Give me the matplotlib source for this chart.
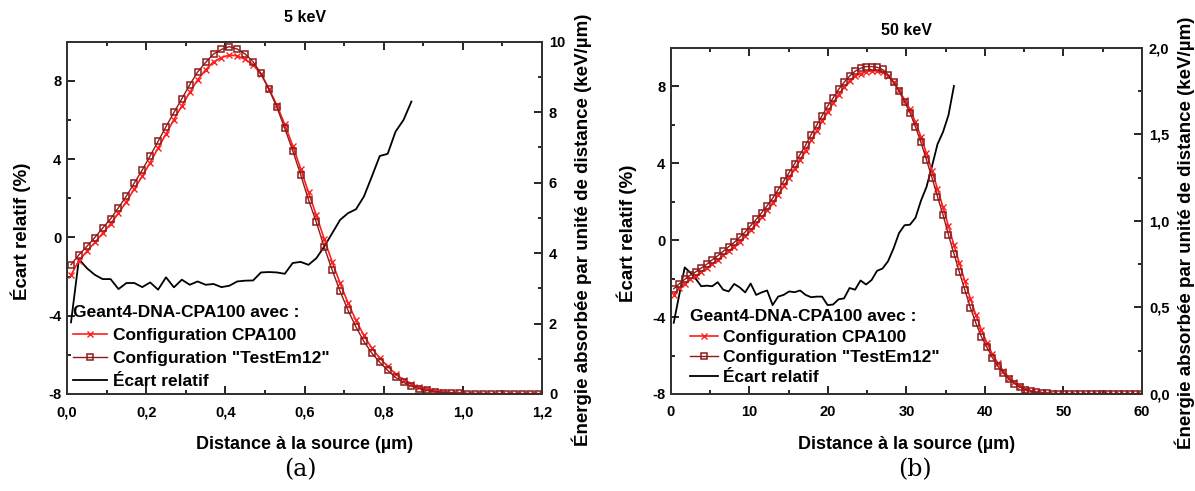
import matplotlib
matplotlib.use("Agg")
import matplotlib.pyplot as plt
from matplotlib.ticker import MultipleLocator, FuncFormatter
from matplotlib.lines import Line2D

plt.rcParams['font.family'] = ['Liberation Sans', 'DejaVu Sans']
plt.rcParams['font.weight'] = 'bold'
plt.rcParams['axes.unicode_minus'] = False

# ---------------- 5 keV ----------------
a_x = [0.01, 0.03, 0.05, 0.07, 0.09, 0.11, 0.13, 0.15, 0.17, 0.19,
       0.21, 0.23, 0.25, 0.27, 0.29, 0.31, 0.33, 0.35, 0.37, 0.39,
       0.41, 0.43, 0.45, 0.47, 0.49, 0.51, 0.53, 0.55, 0.57, 0.59,
       0.61, 0.63, 0.65, 0.67, 0.69, 0.71, 0.73, 0.75, 0.77, 0.79,
       0.81, 0.83, 0.85, 0.87, 0.89, 0.91, 0.93, 0.95, 0.97, 0.99,
       1.01, 1.03, 1.05, 1.07, 1.09, 1.11, 1.13, 1.15, 1.17, 1.19]
a_testem12 = [3.67, 3.95, 4.19, 4.44, 4.71, 4.97, 5.29, 5.62, 5.99, 6.36,
              6.76, 7.17, 7.59, 7.99, 8.38, 8.78, 9.14, 9.41, 9.65, 9.78,
              9.86, 9.79, 9.65, 9.43, 9.10, 8.65, 8.14, 7.54, 6.91, 6.23,
              5.51, 4.87, 4.16, 3.51, 2.91, 2.37, 1.90, 1.49, 1.16, 0.90,
              0.67, 0.47, 0.33, 0.22, 0.15, 0.10, 0.06, 0.04, 0.03, 0.02,
              0.01, 0.01, 0.01, 0.0, 0.0, 0.0, 0.0, 0.0, 0.0, 0.0]
a_cpa100 = [3.38, 3.78, 4.05, 4.30, 4.56, 4.83, 5.13, 5.46, 5.82, 6.18,
            6.57, 6.98, 7.38, 7.79, 8.18, 8.56, 8.92, 9.20, 9.43, 9.55,
            9.62, 9.60, 9.50, 9.35, 9.07, 8.67, 8.20, 7.65, 7.05, 6.40,
            5.72, 5.07, 4.39, 3.74, 3.14, 2.58, 2.09, 1.66, 1.30, 1.02,
            0.78, 0.57, 0.40, 0.28, 0.19, 0.13, 0.08, 0.05, 0.03, 0.02,
            0.01, 0.01, 0.01, 0.0, 0.0, 0.0, 0.0, 0.0, 0.0, 0.0]
a_ecart_x = a_x[:44]
a_ecart = [-4.34, -1.11, -1.57, -1.91, -2.13, -2.13, -2.64, -2.33, -2.33, -2.54,
           -2.30, -2.67, -2.04, -2.55, -2.16, -2.42, -2.25, -2.42, -2.38, -2.54,
           -2.47, -2.25, -2.21, -2.20, -1.79, -1.77, -1.79, -1.86, -1.31, -1.25,
           -1.40, -1.06, -0.46, 0.22, 0.90, 1.24, 1.44, 2.09, 3.11, 4.16,
           4.27, 5.41, 6.00, 6.94]

# ---------------- 50 keV ----------------
b_x = [0.35, 1.05, 1.75, 2.45, 3.15, 3.85, 4.55, 5.25, 5.95, 6.65,
       7.35, 8.05, 8.75, 9.45, 10.15, 10.85, 11.55, 12.25, 12.95, 13.65,
       14.35, 15.05, 15.75, 16.45, 17.15, 17.85, 18.55, 19.25, 19.95, 20.65,
       21.35, 22.05, 22.75, 23.45, 24.15, 24.85, 25.55, 26.25, 26.95, 27.65,
       28.35, 29.05, 29.75, 30.45, 31.15, 31.85, 32.55, 33.25, 33.95, 34.65,
       35.35, 36.05, 36.75, 37.45, 38.15, 38.85, 39.55, 40.25, 40.95, 41.65,
       42.35, 43.05, 43.75, 44.45, 45.15, 45.85, 46.55, 47.25, 47.95, 48.65,
       49.35, 50.05, 50.75, 51.45, 52.15, 52.85, 53.55, 54.25, 54.95, 55.65,
       56.35, 57.05, 57.75, 58.45, 59.15, 59.85]
b_testem12 = [0.607, 0.636, 0.662, 0.686, 0.705, 0.727, 0.749, 0.775, 0.798, 0.824,
              0.850, 0.875, 0.905, 0.935, 0.972, 1.008, 1.047, 1.087, 1.130, 1.180,
              1.229, 1.279, 1.330, 1.383, 1.437, 1.498, 1.551, 1.607, 1.662, 1.709,
              1.759, 1.800, 1.836, 1.864, 1.881, 1.891, 1.891, 1.887, 1.874, 1.844,
              1.800, 1.749, 1.686, 1.625, 1.542, 1.453, 1.352, 1.249, 1.140, 1.036,
              0.919, 0.810, 0.702, 0.599, 0.498, 0.409, 0.330, 0.270, 0.210, 0.160,
              0.120, 0.085, 0.060, 0.040, 0.025, 0.015, 0.009, 0.005, 0.003, 0.002,
              0.001, 0.0, 0.0, 0.0, 0.0, 0.0, 0.0, 0.0, 0.0, 0.0,
              0.0, 0.0, 0.0, 0.0, 0.0, 0.0]
b_cpa100 = [0.573, 0.610, 0.638, 0.662, 0.682, 0.704, 0.726, 0.751, 0.774, 0.800,
            0.826, 0.851, 0.880, 0.910, 0.946, 0.982, 1.020, 1.060, 1.102, 1.150,
            1.199, 1.249, 1.300, 1.352, 1.406, 1.465, 1.519, 1.575, 1.630, 1.679,
            1.729, 1.771, 1.808, 1.836, 1.850, 1.862, 1.866, 1.866, 1.858, 1.836,
            1.800, 1.755, 1.700, 1.645, 1.570, 1.485, 1.390, 1.290, 1.185, 1.080,
            0.970, 0.860, 0.755, 0.650, 0.550, 0.455, 0.370, 0.295, 0.230, 0.178,
            0.133, 0.095, 0.068, 0.046, 0.030, 0.019, 0.012, 0.007, 0.004, 0.002,
            0.001, 0.0, 0.0, 0.0, 0.0, 0.0, 0.0, 0.0, 0.0, 0.0,
            0.0, 0.0, 0.0, 0.0, 0.0, 0.0]
b_ecart_x = b_x[:52]
b_ecart = [-4.30, -2.85, -1.42, -1.69, -2.01, -2.40, -2.37, -2.40, -2.19, -2.58,
           -2.67, -2.28, -2.46, -2.72, -2.26, -2.85, -2.72, -2.62, -3.38, -2.94,
           -2.85, -2.67, -2.71, -2.62, -2.85, -2.97, -2.94, -2.94, -3.38, -3.35,
           -3.08, -3.03, -2.49, -2.58, -2.10, -2.31, -2.08, -1.60, -1.48, -1.10,
           -0.44, 0.36, 0.77, 0.80, 1.16, 2.05, 2.76, 3.83, 4.98, 5.61,
           6.49, 8.01]

RED = '#ff1e1e'
DARKRED = '#8e1b1b'

comma = FuncFormatter(lambda v, p: ('%.1f' % v).replace('.', ','))
integer = FuncFormatter(lambda v, p: '%d' % round(v))


def panel(rect, title, x, cpa, tem, ex, ec, xmax, xmaj, xmin, xfmt, ymax, ymaj, ymin, yfmt,
          leg_anchor, hlen, lspace, title_pad, ylab_xy, rlab_xy):
    ax = fig.add_axes(rect)
    ax2 = ax.twinx()
    ax.plot(ex, ec, color='black', lw=1.3)
    ax2.plot(x, cpa, color=RED, lw=1.2, marker='x', ms=5, mew=1.0)
    ax2.plot(x, tem, color=DARKRED, lw=1.0, marker='s', ms=5, mfc='none', mew=1.1)

    ax.set_xlim(0, xmax)
    ax.set_ylim(-8, 10)
    ax2.set_ylim(0, ymax)
    ax.xaxis.set_major_locator(MultipleLocator(xmaj))
    ax.xaxis.set_minor_locator(MultipleLocator(xmin))
    ax.xaxis.set_major_formatter(xfmt)
    ax.yaxis.set_major_locator(MultipleLocator(4))
    ax.yaxis.set_minor_locator(MultipleLocator(2))
    ax2.yaxis.set_major_locator(MultipleLocator(ymaj))
    ax2.yaxis.set_minor_locator(MultipleLocator(ymin))
    ax2.yaxis.set_major_formatter(yfmt)

    ax.tick_params(which='both', direction='in', top=True, labelsize=10.5, width=1.2, pad=4)
    ax.tick_params(axis='x', which='both', pad=8)
    ax.tick_params(which='major', length=6)
    ax.tick_params(which='minor', length=3)
    ax2.tick_params(which='both', direction='in', labelsize=10.5, width=1.2, pad=5)
    ax2.tick_params(which='major', length=6)
    ax2.tick_params(which='minor', length=3)
    for a in (ax, ax2):
        for s in a.spines.values():
            s.set_linewidth(1.4)
            s.set_color('#333333')

    ax.set_title(title, fontsize=11.5, fontweight='bold', pad=title_pad)
    ax.set_xlabel('Distance à la source (µm)', fontsize=13, fontweight='bold', labelpad=12)
    ax.set_ylabel('Écart relatif (%)', fontsize=13.5, fontweight='bold')
    ax.yaxis.set_label_coords(*ylab_xy)
    ax2.set_ylabel('Énergie absorbée par unité de distance (keV/µm)', fontsize=13.5,
                   fontweight='bold')
    ax2.yaxis.set_label_coords(*rlab_xy)

    handles = [Line2D([], [], color=RED, lw=1.2, marker='x', ms=5, mew=1.0),
               Line2D([], [], color=DARKRED, lw=1.0, marker='s', ms=5, mfc='none', mew=1.1),
               Line2D([], [], color='black', lw=1.3)]
    labels = ['Configuration CPA100', 'Configuration "TestEm12"', 'Écart relatif']
    leg = ax2.legend(handles, labels, title='Geant4-DNA-CPA100 avec :', loc='lower left',
                     bbox_to_anchor=leg_anchor, frameon=False, numpoints=1,
                     prop={'size': 12.5, 'weight': 'bold'}, handlelength=hlen,
                     handletextpad=0.3, labelspacing=lspace, borderpad=0.0,
                     borderaxespad=0.0, alignment='left')
    leg.get_title().set_fontsize(12.5)
    leg.get_title().set_fontweight('bold')
    return ax


fig = plt.figure(figsize=(11.95, 4.91), dpi=100)

panel([0.0561, 0.1976, 0.3975, 0.7175], '5 keV', a_x, a_cpa100, a_testem12,
      a_ecart_x, a_ecart, 1.2, 0.2, 0.1, comma, 10, 2, 1, integer,
      (0.012, 0.015), 2.0, 0.45, 14, (-0.076, 0.463), (1.061, 0.466))
panel([0.5615, 0.1976, 0.3941, 0.7053], '50 keV', b_x, b_cpa100, b_testem12,
      b_ecart_x, b_ecart, 60, 10, 5, integer, 2.0, 0.5, 0.25, comma,
      (0.04, 0.025), 1.6, 0.3, 9, (-0.072, 0.465), (1.07, 0.465))

fig.text(0.251, 0.043, '(a)', fontsize=17, family='DejaVu Serif', fontweight='normal',
         ha='center', va='center')
fig.text(0.766, 0.043, '(b)', fontsize=17, family='DejaVu Serif', fontweight='normal',
         ha='center', va='center')

fig.savefig('out.png', dpi=100)
